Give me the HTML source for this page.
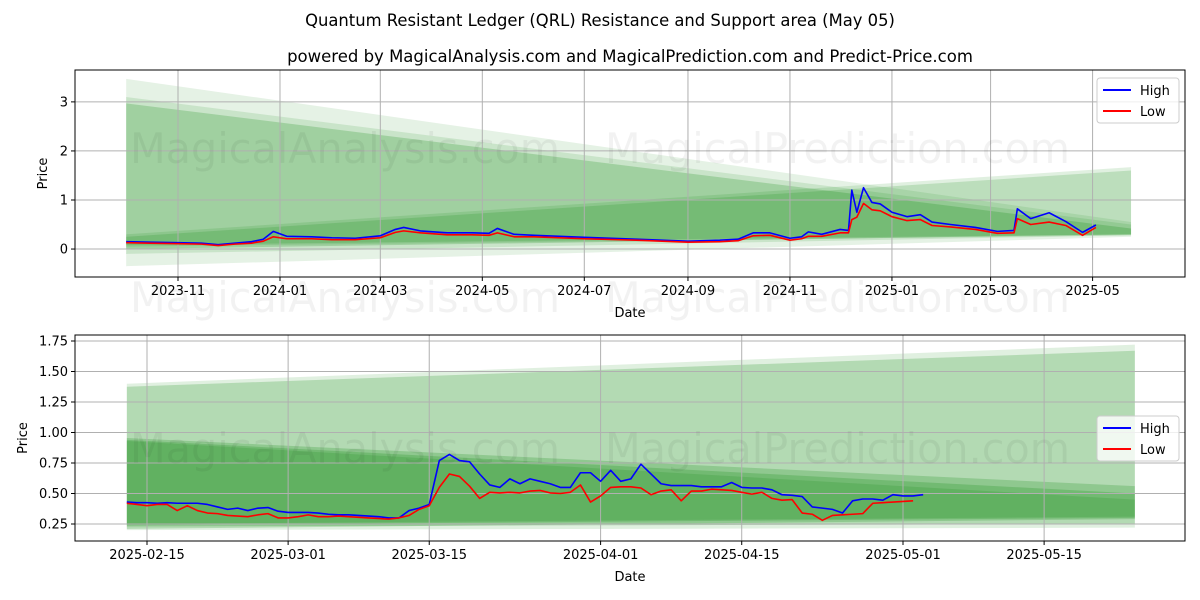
<!DOCTYPE html>
<html><head><meta charset="utf-8"><style>
body{margin:0;background:#fff;}
svg{display:block;font-family:"DejaVu Sans","Liberation Sans",sans-serif;}
</style></head><body>
<svg id="chart" width="1200" height="600" xmlns="http://www.w3.org/2000/svg">
<text x="600" y="26" text-anchor="middle" font-size="16.4">Quantum Resistant Ledger (QRL) Resistance and Support area (May 05)</text>
<text x="630" y="62" text-anchor="middle" font-size="16.5">powered by MagicalAnalysis.com and MagicalPrediction.com and Predict-Price.com</text>
<g id="topPanel"></g>
<g id="botPanel"></g>
</svg>
<script>
// ---- top chart data ----
const topDates = ["2023-10-01","2023-10-15","2023-11-01","2023-11-15","2023-11-25","2023-12-05","2023-12-15","2023-12-22","2023-12-28","2024-01-05","2024-01-20","2024-02-01","2024-02-15","2024-03-01","2024-03-10","2024-03-15","2024-03-25","2024-04-10","2024-04-25","2024-05-05","2024-05-10","2024-05-20","2024-06-01","2024-07-01","2024-08-01","2024-09-01","2024-09-20","2024-10-01","2024-10-10","2024-10-20","2024-11-01","2024-11-08","2024-11-12","2024-11-20","2024-12-01","2024-12-06","2024-12-08","2024-12-11","2024-12-15","2024-12-20","2024-12-25","2025-01-01","2025-01-10","2025-01-18","2025-01-25","2025-02-05","2025-02-20","2025-03-05","2025-03-15","2025-03-17","2025-03-25","2025-04-05","2025-04-15","2025-04-25","2025-05-03"];
const topHigh = [0.15,0.14,0.13,0.12,0.09,0.12,0.15,0.2,0.36,0.26,0.25,0.23,0.22,0.27,0.40,0.44,0.37,0.33,0.33,0.32,0.42,0.30,0.28,0.24,0.20,0.16,0.18,0.20,0.33,0.33,0.22,0.25,0.35,0.30,0.40,0.38,1.2,0.75,1.25,0.95,0.92,0.75,0.66,0.70,0.55,0.50,0.44,0.36,0.38,0.82,0.62,0.74,0.56,0.34,0.49];
const topLow = [0.13,0.12,0.11,0.10,0.07,0.10,0.12,0.16,0.25,0.21,0.21,0.19,0.19,0.23,0.34,0.37,0.33,0.29,0.29,0.28,0.33,0.25,0.25,0.21,0.18,0.14,0.15,0.17,0.27,0.28,0.18,0.21,0.26,0.26,0.33,0.33,0.60,0.65,0.93,0.80,0.78,0.66,0.58,0.60,0.48,0.45,0.40,0.32,0.33,0.62,0.50,0.55,0.48,0.28,0.44];
const topTicks = ["2023-11","2024-01","2024-03","2024-05","2024-07","2024-09","2024-11","2025-01","2025-03","2025-05"];
const topYTicks = [0,1,2,3];
const topBandStart = "2023-10-01", topBandEnd = "2025-05-24";
const topBandUpStart = [3.47,3.10,2.97,0.30,0.25];
const topBandUpEnd = [0.55,0.50,0.42,1.67,1.60];
const topBandLoStart = [-0.35,-0.10,0.0,0.05,0.08];
const topBandLoEnd = [0.25,0.28,0.30,0.28,0.30];
const topBandOp = [0.1,0.12,0.2,0.12,0.16];

// ---- bottom chart data ----
const botStart = "2025-02-13";
const botHigh = [.43,.425,.425,.42,.425,.42,.42,.42,.41,.39,.37,.38,.36,.38,.385,.355,.345,.345,.345,.34,.33,.325,.325,.32,.315,.31,.30,.30,.36,.38,.41,.77,.82,.77,.76,.66,.57,.55,.62,.58,.62,.60,.58,.55,.55,.67,.67,.60,.69,.60,.62,.74,.66,.58,.565,.565,.565,.555,.555,.555,.59,.55,.545,.545,.53,.49,.485,.475,.39,.38,.37,.34,.44,.455,.455,.445,.49,.48,.48,.49];
const botLow = [.42,.41,.40,.41,.41,.36,.40,.36,.34,.335,.32,.315,.31,.325,.335,.30,.30,.31,.325,.31,.31,.315,.31,.305,.30,.295,.29,.30,.32,.37,.40,.55,.66,.64,.56,.46,.51,.505,.51,.505,.52,.525,.505,.50,.51,.57,.43,.48,.55,.555,.555,.545,.49,.52,.53,.44,.52,.52,.535,.53,.525,.51,.495,.51,.46,.445,.45,.34,.33,.28,.32,.325,.33,.335,.42,.425,.43,.435,.44];
const botTicks = ["2025-02-15","2025-03-01","2025-03-15","2025-04-01","2025-04-15","2025-05-01","2025-05-15"];
const botYTicks = [0.25,0.5,0.75,1.0,1.25,1.5,1.75];
const botBandStart = "2025-02-13", botBandEnd = "2025-05-24";
const botBandUpStart = [1.40,1.375,0.955,0.94,0.93];
const botBandUpEnd = [1.72,1.67,0.56,0.50,0.45];
const botBandLoStart = [0.20,0.23,0.21,0.24,0.25];
const botBandLoEnd = [0.22,0.25,0.29,0.30,0.31];
const botBandOp = [0.12,0.2,0.2,0.2,0.15];

const NS="http://www.w3.org/2000/svg";
const day = s => Date.parse(s+"T00:00:00Z")/86400000;
function mk(parent, tag, attrs){const e=document.createElementNS(NS,tag);for(const k in attrs)e.setAttribute(k,attrs[k]);parent.appendChild(e);return e;}
function watermark(g,y){
  const a=mk(g,"text",{x:130,y:y,"font-size":42,textLength:430,lengthAdjust:"spacingAndGlyphs",fill:"#000","fill-opacity":0.05});
  a.textContent="MagicalAnalysis.com";
  
  
  const b=mk(g,"text",{x:605,y:y,"font-size":42,textLength:465,lengthAdjust:"spacingAndGlyphs",fill:"#000","fill-opacity":0.05});
  b.textContent="MagicalPrediction.com";
  
  
}

function panel(g, cfg){
  const {L,R,T,B,d0,d1,v0,v1}=cfg;
  const X=d=>L+(d-d0)/(d1-d0)*(R-L);
  const Y=v=>B-(v-v0)/(v1-v0)*(B-T);
  const bs=day(cfg.bandStart), be=day(cfg.bandEnd);
  cfg.bUS.forEach((u,i)=>{
    const p=mk(g,"polygon",{points:`${X(bs)},${Y(u)} ${X(be)},${Y(cfg.bUE[i])} ${X(be)},${Y(cfg.bLE[i])} ${X(bs)},${Y(cfg.bLS[i])}`,fill:"#008000","fill-opacity":cfg.bOp[i]});
    
    
  });
  cfg.xt.forEach(t=>{
    const d=day(t.length===7?t+"-01":t), x=X(d);
    const l=mk(g,"line",{x1:x,x2:x,y1:T,y2:B,stroke:"#b0b0b0","stroke-width":1});
    
    
    mk(g,"line",{x1:x,x2:x,y1:B,y2:B+4,stroke:"#000"});
    const tx=mk(g,"text",{x:x,y:B+18,"text-anchor":"middle","font-size":13});
    tx.textContent=t;
    
    
  });
  cfg.yt.forEach(v=>{
    const y=Y(v);
    const l=mk(g,"line",{x1:L,x2:R,y1:y,y2:y,stroke:"#b0b0b0","stroke-width":1});
    
    
    mk(g,"line",{x1:L-4,x2:L,y1:y,y2:y,stroke:"#000"});
    const tx=mk(g,"text",{x:L-7,y:y+4.5,"text-anchor":"end","font-size":13});
    tx.textContent=cfg.yfmt(v);
    
    
  });
  watermark(g,cfg.wmY);
  const line=(ds,vs,col,name)=>{
    const pts=vs.map((v,i)=>X(ds[i])+","+Y(v)).join(" ");
    const p=mk(g,"polyline",{points:pts,fill:"none",stroke:col,"stroke-width":1.6,"stroke-linejoin":"round"});
    
    
  };
  line(cfg.hd,cfg.hv,"#0000ff","high-line");
  line(cfg.ld,cfg.lv,"#ff0000","low-line");
  const f=mk(g,"rect",{x:L,y:T,width:R-L,height:B-T,fill:"none",stroke:"#000","stroke-width":1});
  
  
  const xl=mk(g,"text",{x:(L+R)/2,y:B+40,"text-anchor":"middle","font-size":13});
  xl.textContent="Date";
  
  
  const yl=mk(g,"text",{x:cfg.ylX,y:(T+B)/2,"text-anchor":"middle","font-size":13,transform:`rotate(-90 ${cfg.ylX} ${(T+B)/2})`});
  yl.textContent="Price";
  
  
  const lg=mk(g,"g",{});
  
  
  mk(lg,"rect",{x:cfg.lgX,y:cfg.lgY,width:82,height:45,rx:3,fill:"#fff","fill-opacity":0.8,stroke:"#ccc"});
  [["High","#0000ff"],["Low","#ff0000"]].forEach((e,i)=>{
    const yy=cfg.lgY+12+i*21;
    const le=mk(lg,"g",{});
    
    
    mk(le,"line",{x1:cfg.lgX+6,x2:cfg.lgX+34,y1:yy,y2:yy,stroke:e[1],"stroke-width":2});
    const t=mk(le,"text",{x:cfg.lgX+43,y:yy+5,"font-size":13});
    t.textContent=e[0];
  });
}
const topG=document.getElementById("topPanel");
const td=topDates.map(day);
panel(topG,{L:75,R:1185,T:70,B:277,d0:day("2023-11-01")-(178-75)/1.672,d1:day("2023-11-01")+(1185-178)/1.672,v0:-0.57,v1:3.65,
  bandStart:topBandStart,bandEnd:topBandEnd,bUS:topBandUpStart,bUE:topBandUpEnd,bLS:topBandLoStart,bLE:topBandLoEnd,bOp:topBandOp,
  xt:topTicks,yt:topYTicks,yfmt:v=>String(v),hd:td,hv:topHigh,ld:td,lv:topLow,wmY:163,ylX:47,lgX:1097,lgY:78});
const botG=document.getElementById("botPanel");
const b0=day(botStart);
const bd=botHigh.map((_,i)=>b0+i), bl=botLow.map((_,i)=>b0+i);
panel(botG,{L:75,R:1185,T:335,B:541,d0:day("2025-02-15")-(147-75)/10.08,d1:day("2025-02-15")+(1185-147)/10.08,v0:0.25-(541-524)/122,v1:0.25+(524-335)/122,
  bandStart:botBandStart,bandEnd:botBandEnd,bUS:botBandUpStart,bUE:botBandUpEnd,bLS:botBandLoStart,bLE:botBandLoEnd,bOp:botBandOp,
  xt:botTicks,yt:botYTicks,yfmt:v=>v.toFixed(2),hd:bd,hv:botHigh,ld:bl,lv:botLow,wmY:463,ylX:27,lgX:1097,lgY:416});
watermark(topG,312);
</script>
</body></html>
